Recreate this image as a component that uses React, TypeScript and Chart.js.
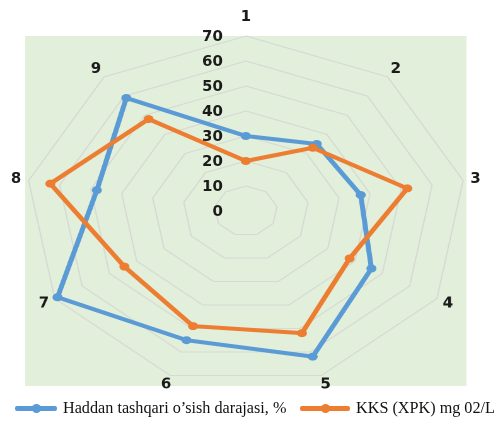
import React, { useEffect, useRef } from 'react';
import { Chart, registerables } from 'chart.js';

Chart.register(...registerables);

const axisLabels = ['1', '2', '3', '4', '5', '6', '7', '8', '9'];
const growthLevel = [30, 35, 37, 46, 62, 55, 69, 48, 59];
const codValues = [20, 33, 52, 38, 52, 49, 44.5, 63, 48];
const tickValues = [0, 10, 20, 30, 40, 50, 60, 70];
const seriesNames = ['Haddan tashqari o\u2019sish darajasi, %', 'KKS (XPK) mg 02/L'];
const seriesColors = ['#5b9bd5', '#ed7d31'];

const PAGE_W = 498;
const PAGE_H = 428;
const CANVAS_W = 395;
const SX = PAGE_W / CANVAS_W;
const LABEL_FONT = 'bold 15px "DejaVu Sans", sans-serif';
const TEXT_COLOR = '#1a1a1a';

const plotBackground = {
  id: 'plotBackground',
  beforeDraw(chart: any) {
    const s = chart.scales.r;
    const R = s.drawingArea;
    const ctx = chart.ctx;
    ctx.save();
    ctx.fillStyle = '#e2efda';
    ctx.fillRect(s.xCenter - R, s.yCenter - R, 2 * R, 2 * R);
    ctx.restore();
  },
};

const radarLabels = {
  id: 'radarLabels',
  afterDatasetsDraw(chart: any) {
    const s = chart.scales.r;
    const ctx = chart.ctx;
    ctx.save();
    ctx.font = LABEL_FONT;
    ctx.fillStyle = TEXT_COLOR;
    ctx.textBaseline = 'middle';
    ctx.textAlign = 'right';
    s.ticks.forEach((t: any) => {
      const y = s.yCenter - s.getDistanceFromCenterForValue(t.value);
      ctx.save();
      ctx.translate(s.xCenter - 23 / SX, y + 1);
      ctx.scale(1 / SX, 1);
      ctx.fillText(String(t.label ?? t.value), 0, 0);
      ctx.restore();
    });
    ctx.textAlign = 'center';
    (chart.data.labels as string[]).forEach((lbl, i) => {
      const angle = s.getIndexAngle(i);
      const extra = Math.cos(angle) > 0.9 ? 19 : 10;
      const p = s.getPointPosition(i, s.drawingArea + extra);
      ctx.save();
      ctx.translate(p.x, p.y);
      ctx.scale(1 / SX, 1);
      ctx.fillText(lbl, 0, 0);
      ctx.restore();
    });
    ctx.restore();
  },
};

function LegendItem({ color, text, left, lineW }: { color: string; text: string; left: number; lineW: number }) {
  return (
    <div style={{ position: 'absolute', left, top: 398, height: 20, display: 'flex', alignItems: 'center', whiteSpace: 'nowrap' }}>
      <div style={{ position: 'relative', width: lineW, height: 5, background: color, marginRight: 6, borderRadius: 2 }}>
        <div style={{ position: 'absolute', left: lineW / 2 - 4.5, top: -2, width: 9, height: 9, borderRadius: '50%', background: color }} />
      </div>
      <span style={{ fontFamily: '"Liberation Serif", "Times New Roman", serif', fontSize: 16.2, color: '#111' }}>{text}</span>
    </div>
  );
}

export default function App() {
  const canvasRef = useRef<HTMLCanvasElement | null>(null);

  useEffect(() => {
    const canvas = canvasRef.current;
    if (!canvas) return;
    const chart = new Chart(canvas, {
      type: 'radar',
      data: {
        labels: axisLabels,
        datasets: [
          {
            label: seriesNames[0],
            data: growthLevel,
            borderColor: seriesColors[0],
            backgroundColor: seriesColors[0],
            pointBackgroundColor: seriesColors[0],
            pointBorderColor: seriesColors[0],
            borderWidth: 4,
            pointRadius: 4,
            pointBorderWidth: 0,
            fill: false,
            order: 1,
          },
          {
            label: seriesNames[1],
            data: codValues,
            borderColor: seriesColors[1],
            backgroundColor: seriesColors[1],
            pointBackgroundColor: seriesColors[1],
            pointBorderColor: seriesColors[1],
            borderWidth: 4,
            pointRadius: 4,
            pointBorderWidth: 0,
            fill: false,
            order: 0,
          },
        ],
      },
      options: {
        responsive: false,
        devicePixelRatio: 2,
        animation: false,
        layout: { padding: { left: 20, right: 25, top: 36, bottom: 42 } },
        plugins: { legend: { display: false }, tooltip: { enabled: false } },
        scales: {
          r: {
            min: 0,
            max: 70,
            ticks: { display: false, stepSize: 10 },
            afterBuildTicks: (scale: any) => {
              scale.ticks = tickValues.map((v) => ({ value: v }));
            },
            grid: { color: '#d6d9d4', lineWidth: 1, circular: false },
            angleLines: { display: false },
            pointLabels: { display: false },
          },
        },
      },
      plugins: [plotBackground, radarLabels],
    } as any);
    return () => chart.destroy();
  }, []);

  return (
    <div style={{ position: 'absolute', left: 0, top: 0, width: PAGE_W, height: PAGE_H, overflow: 'hidden', background: '#fff' }}>
      <canvas
        ref={canvasRef}
        width={CANVAS_W}
        height={PAGE_H}
        style={{ width: PAGE_W + 'px', height: PAGE_H + 'px', display: 'block' }}
      />
      <LegendItem color={seriesColors[0]} text={seriesNames[0]} left={15} lineW={42} />
      <LegendItem color={seriesColors[1]} text={seriesNames[1]} left={300} lineW={50} />
    </div>
  );
}
